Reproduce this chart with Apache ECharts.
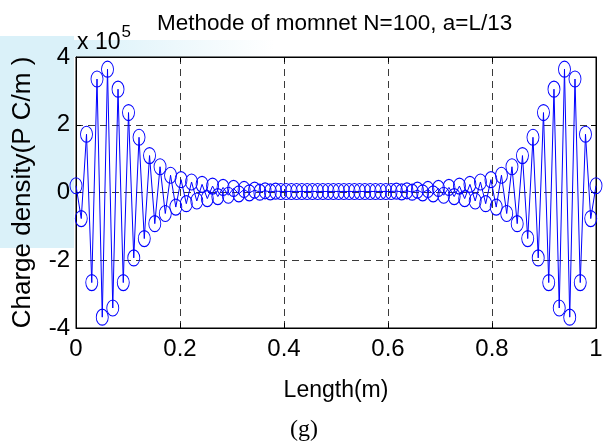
<!DOCTYPE html>
<html>
<head>
<meta charset="utf-8">
<script src="https://cdn.jsdelivr.net/npm/echarts@6/dist/echarts.min.js"></script>
<style>html,body{margin:0;padding:0;background:#fff;}#c{width:613px;height:444px;}</style>
</head>
<body>
<div id="c"></div>
<script>
var titleText = 'Methode of momnet N=100, a=L/13';
var xName = 'Length(m)';
var yName = 'Charge density(P C/m )';
var caption = '(g)';
var xTicks = [0, 0.2, 0.4, 0.6, 0.8, 1];
var yTicks = [-4, -2, 0, 2, 4];
var N = 100;
// charge density in units of 1e5 PC/m
var values = [
  0.20, -0.77, 1.72, -2.66, 3.35, -3.68, 3.64, -3.41, 3.05, -2.66,
  2.36, -1.93, 1.63, -1.36, 1.09, -0.92, 0.76, -0.62, 0.51, -0.43,
  0.38, -0.33, 0.31, -0.25, 0.24, -0.18, 0.19, -0.12, 0.15, -0.08,
  0.12, -0.04, 0.09, -0.01, 0.07, 0.01, 0.05, 0.02, 0.04, 0.03,
  0.03, 0.03, 0.03, 0.03, 0.03, 0.03, 0.03, 0.03, 0.03, 0.03,
  0.03, 0.03, 0.03, 0.03, 0.03, 0.03, 0.03, 0.03, 0.03, 0.03,
  0.03, 0.04, 0.02, 0.05, 0.01, 0.07, -0.01, 0.09, -0.04, 0.12,
  -0.08, 0.15, -0.12, 0.19, -0.18, 0.24, -0.25, 0.31, -0.33, 0.38,
  -0.43, 0.51, -0.62, 0.76, -0.92, 1.09, -1.36, 1.63, -1.93, 2.36,
  -2.66, 3.05, -3.41, 3.64, -3.68, 3.35, -2.66, 1.72, -0.77, 0.20
];
var positions = [];
for (var i = 0; i < N; i++) positions.push(i / (N - 1));
var data = positions.map(function (x, i) { return [x, values[i]]; });

var FONT = 'Liberation Sans, Arial, sans-serif';
var chart = echarts.init(document.getElementById('c'));
chart.setOption({
  backgroundColor: '#ffffff',
  animation: false,
  graphic: [
    { type: 'rect', z: -10, shape: { x: 0, y: 36, width: 74, height: 212 },
      style: { fill: '#daf1f9' } },
    { type: 'rect', z: -10, shape: { x: 74, y: 40, width: 200, height: 17 },
      style: { fill: new echarts.graphic.LinearGradient(0, 0, 1, 0, [
        { offset: 0, color: '#daf1f9' }, { offset: 1, color: 'rgba(218,241,249,0)' }]) } },
    { type: 'text', x: 77, y: 43,
      style: { text: 'x 10{s|5}', font: '23px ' + FONT, fill: '#000', verticalAlign: 'middle',
        rich: { s: { fontSize: 17, fontFamily: FONT, verticalAlign: 'top', padding: [0, 0, 22, 1] } } } },
    { type: 'text', x: 157, y: 24,
      style: { text: titleText, font: '22.5px ' + FONT, fill: '#000', verticalAlign: 'middle' } },
    { type: 'text', x: 304, y: 430,
      style: { text: caption, font: '24px Liberation Serif, serif', fill: '#000', align: 'center', verticalAlign: 'middle' } }
  ],
  grid: { left: 76, right: 17, top: 57, bottom: 116, show: true, containLabel: false,
    outerBoundsMode: 'none',
    borderColor: '#000', borderWidth: 1, backgroundColor: 'transparent' },
  xAxis: [{
    type: 'value', min: xTicks[0], max: xTicks[xTicks.length - 1], interval: 0.2,
    name: xName, nameLocation: 'middle', nameGap: 51,
    nameTextStyle: { fontFamily: FONT, fontSize: 23, color: '#000' },
    axisLine: { show: true, onZero: false, lineStyle: { color: '#000', width: 1 } },
    axisTick: { show: true, inside: true, length: 5, lineStyle: { color: '#000' } },
    axisLabel: { fontFamily: FONT, fontSize: 24, color: '#000', margin: 9 },
    splitLine: { show: true, lineStyle: { color: '#3a3a3a', type: [7, 5], width: 1 } }
  }, {
    type: 'value', position: 'top', min: 0, max: 1, interval: 0.2,
    axisLine: { show: true, onZero: false, lineStyle: { color: '#000' } },
    axisTick: { show: true, inside: true, length: 5, lineStyle: { color: '#000' } },
    axisLabel: { show: false }, splitLine: { show: false }
  }],
  yAxis: [{
    type: 'value', min: yTicks[0], max: yTicks[yTicks.length - 1], interval: 2,
    name: yName, nameLocation: 'middle', nameGap: 40, nameRotate: 90,
    nameTextStyle: { fontFamily: FONT, fontSize: 26, color: '#000' },
    axisLine: { show: true, onZero: false, lineStyle: { color: '#000', width: 1 } },
    axisTick: { show: true, inside: true, length: 5, lineStyle: { color: '#000' } },
    axisLabel: { fontFamily: FONT, fontSize: 24, color: '#000', margin: 6 },
    splitLine: { show: true, lineStyle: { color: '#3a3a3a', type: [7, 5], width: 1 } }
  }, {
    type: 'value', position: 'right', min: -4, max: 4, interval: 2,
    axisLine: { show: true, onZero: false, lineStyle: { color: '#000' } },
    axisTick: { show: true, inside: true, length: 5, lineStyle: { color: '#000' } },
    axisLabel: { show: false }, splitLine: { show: false }
  }],
  series: [{
    type: 'line', data: data, xAxisIndex: 0, yAxisIndex: 0,
    symbol: 'circle', symbolSize: [12, 16], showAllSymbol: true,
    lineStyle: { color: '#0000ff', width: 1 },
    itemStyle: { color: 'rgba(0,0,0,0)', borderColor: '#0000ff', borderWidth: 1 }
  }]
});
</script>
</body>
</html>
